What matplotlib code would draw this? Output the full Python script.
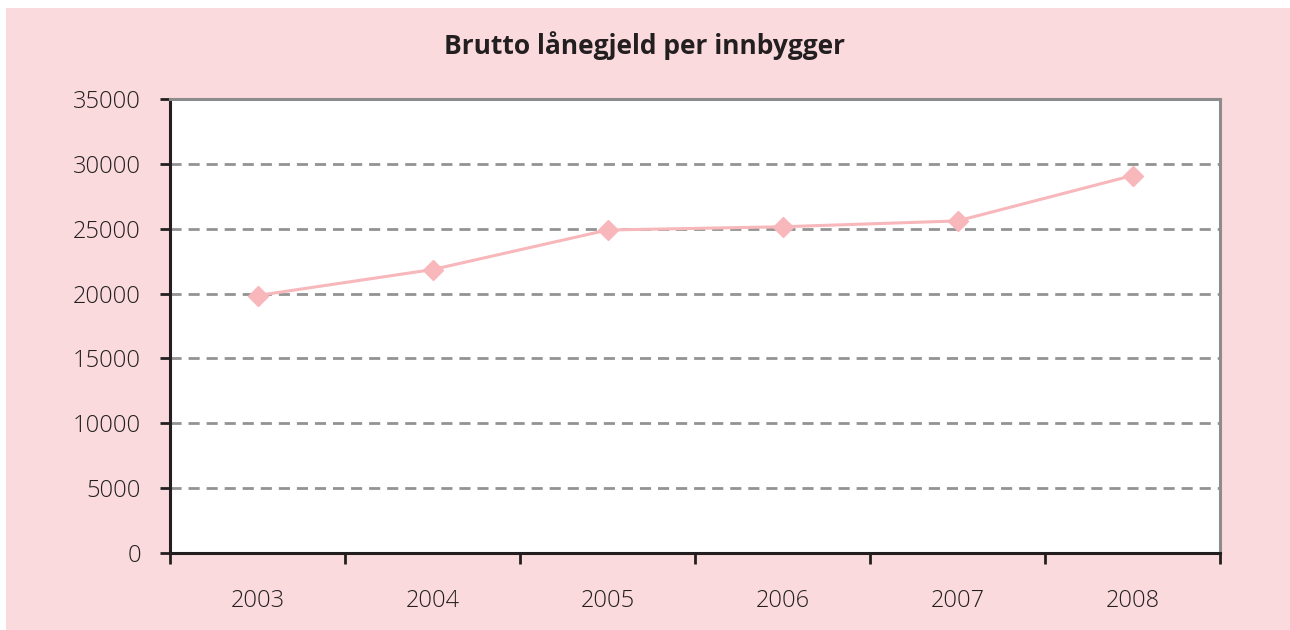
import matplotlib
matplotlib.use('Agg')
import matplotlib.pyplot as plt
from matplotlib.patches import Rectangle
from matplotlib.ticker import FixedLocator

plt.rcParams['font.family'] = ['Open Sans', 'DejaVu Sans']

# Data
years = ['2003', '2004', '2005', '2006', '2007', '2008']
debt = [19850, 21850, 24900, 25150, 25600, 29100]
y_ticks = [0, 5000, 10000, 15000, 20000, 25000, 30000, 35000]

pink = '#FADADD'
ink = '#231F20'
grid_grey = '#939393'
line_pink = '#F7B7BB'

fig = plt.figure(figsize=(12.9, 6.3), dpi=100)
fig.patch.set_facecolor('white')
fig.patches.append(Rectangle((6 / 1290, 0), 1 - 6 / 1290, 1 - 8 / 630,
                             transform=fig.transFigure, facecolor=pink,
                             edgecolor='none', zorder=-10))

ax = fig.add_axes([170 / 1290, 1 - 553 / 630, 1050 / 1290, 454 / 630])
ax.set_facecolor('white')

x = list(range(len(years)))
ax.plot(x, debt, color=line_pink, linewidth=2.2, marker='D', markersize=10,
        markeredgecolor=line_pink, markerfacecolor=line_pink, zorder=3)

ax.set_xlim(-0.5, len(years) - 0.5)
ax.set_ylim(0, 35000)
ax.set_yticks(y_ticks)
ax.set_yticklabels([str(v) for v in y_ticks])
ax.yaxis.grid(True, linestyle=(0, (4, 2.5)), color=grid_grey, linewidth=2)
ax.set_axisbelow(True)

ax.set_xticks(x)
ax.set_xticklabels(years)
ax.xaxis.set_minor_locator(FixedLocator([i - 0.5 for i in range(len(years) + 1)]))
ax.tick_params(axis='x', which='major', length=0, pad=26, labelsize=17, labelcolor=ink)
ax.tick_params(axis='x', which='minor', length=8, width=2, color=ink, direction='out')
ax.tick_params(axis='y', length=7, width=2, color=ink, direction='out', pad=14,
               labelsize=17, labelcolor=ink)
for lab in ax.get_xticklabels() + ax.get_yticklabels():
    lab.set_fontweight('light')

for side in ['left', 'bottom']:
    ax.spines[side].set_color(ink)
    ax.spines[side].set_linewidth(2.2)
for side in ['top', 'right']:
    ax.spines[side].set_color('#8C8C8C')
    ax.spines[side].set_linewidth(2.2)

fig.text(0.5, 1 - 46 / 630, 'Brutto lånegjeld per innbygger', ha='center', va='center',
         fontsize=19, fontweight='bold', color=ink)

fig.savefig('out.png', dpi=100)
